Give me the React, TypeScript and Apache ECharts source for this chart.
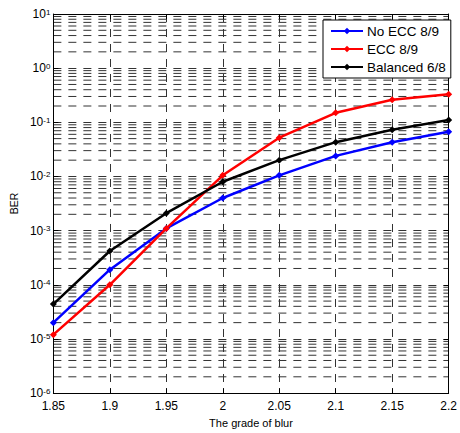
import React, { useEffect, useRef } from "react";
import * as echarts from "echarts";

const xValues = [1.85, 1.9, 1.95, 2.0, 2.05, 2.1, 2.15, 2.2];
const noEcc = [2e-5, 1.9e-4, 1.1e-3, 4e-3, 1.05e-2, 2.4e-2, 4.3e-2, 6.7e-2];
const ecc = [1.2e-5, 1e-4, 1.1e-3, 1.05e-2, 5.2e-2, 0.15, 0.26, 0.33];
const balanced = [4.4e-5, 4.2e-4, 2.1e-3, 8e-3, 2e-2, 4.3e-2, 7.3e-2, 0.11];
const seriesNames = ["No ECC 8/9", "ECC 8/9", "Balanced 6/8"];
const seriesColors = ["#0000ff", "#ff0000", "#000000"];
const minorMultipliers = [2, 3, 4, 5, 6, 7, 8, 9];
const decadeExponents = [-6, -5, -4, -3, -2, -1, 0];
const xMin = 1.85;
const xMax = 2.2;

const FONT = "'Liberation Sans', Arial, Helvetica, sans-serif";

export default function App() {
  const ref = useRef<HTMLDivElement>(null);
  useEffect(() => {
    if (!ref.current) return;
    const chart = echarts.init(ref.current, null, { renderer: "svg" });
    const minorLines: number[][] = [];
    decadeExponents.forEach((e) => {
      minorMultipliers.forEach((m) => {
        minorLines.push([xMin, m * Math.pow(10, e), xMax]);
      });
    });
    const gridColor = "#333";
    const gridDash = [8, 7];
    const gridLine = { color: gridColor, width: 1, type: gridDash as any };
    const allSeries = [noEcc, ecc, balanced];
    const option: any = {
      animation: false,
      textStyle: { fontFamily: FONT },
      grid: { left: 51, right: 9, top: 14, bottom: 38, containLabel: false },
      legend: {
        data: seriesNames,
        orient: "vertical",
        left: 323,
        top: 20,
        z: 20,
        padding: [3, 5, 3, 7],
        itemWidth: 32,
        itemHeight: 8,
        itemGap: 2,
        backgroundColor: "#fff",
        borderColor: "#000",
        borderWidth: 1,
        borderRadius: 0,
        textStyle: { fontSize: 13.5, lineHeight: 16, color: "#000", fontFamily: FONT, padding: [0, 0, 0, -1] },
      },
      xAxis: [
        {
          type: "value",
          min: xMin,
          max: xMax,
          interval: 0.05,
          name: "The grade of blur",
          nameLocation: "middle",
          nameGap: 20,
          nameTextStyle: { fontSize: 11, color: "#000", fontFamily: FONT },
          axisLine: { show: true, lineStyle: { color: "#000", width: 1 } },
          axisTick: { show: true, inside: true, length: 5, lineStyle: { color: "#000" } },
          axisLabel: {
            color: "#000",
            fontSize: 12,
            margin: 7,
            fontFamily: FONT,
            formatter: (v: number) => String(parseFloat(v.toFixed(2))),
          },
          splitLine: { show: true, lineStyle: gridLine },
        },
        {
          type: "value",
          position: "top",
          min: xMin,
          max: xMax,
          interval: 0.05,
          axisLine: { show: true, lineStyle: { color: "#000", width: 1 } },
          axisTick: { show: true, inside: true, length: 5, lineStyle: { color: "#000" } },
          axisLabel: { show: false },
          splitLine: { show: false },
        },
      ],
      yAxis: [
        {
          type: "log",
          logBase: 10,
          min: 1e-6,
          max: 10,
          interval: 1,
          name: "BER",
          nameLocation: "middle",
          nameGap: 34,
          nameTextStyle: { fontSize: 10.5, color: "#000", fontFamily: FONT },
          axisLine: { show: true, lineStyle: { color: "#000", width: 1 } },
          axisTick: { show: true, inside: true, length: 5, lineStyle: { color: "#000" } },
          axisLabel: {
            margin: 3,
            formatter: (v: number) => {
              const e = Math.round(Math.log10(v));
              return `{b|10}{s|${e}}`;
            },
            rich: {
              b: { fontSize: 12, lineHeight: 12, color: "#000", fontFamily: FONT, padding: [6, 0, 0, 0], verticalAlign: "bottom" },
              s: { fontSize: 8, lineHeight: 8, color: "#000", fontFamily: FONT, verticalAlign: "top" },
            },
          },
          splitLine: { show: true, lineStyle: gridLine },
        },
        {
          type: "log",
          logBase: 10,
          min: 1e-6,
          max: 10,
          interval: 1,
          position: "right",
          axisLine: { show: true, lineStyle: { color: "#000", width: 1 } },
          axisTick: { show: true, inside: true, length: 5, lineStyle: { color: "#000" } },
          axisLabel: { show: false },
          splitLine: { show: false },
        },
      ],
      series: [
        {
          name: "__minorgrid",
          type: "custom",
          z: 0,
          silent: true,
          clip: true,
          encode: { x: [0, 2], y: 1 },
          data: minorLines,
          renderItem: (params: any, api: any) => {
            const p1 = api.coord([api.value(0), api.value(1)]);
            const p2 = api.coord([api.value(2), api.value(1)]);
            return {
              type: "line",
              shape: { x1: p1[0], y1: p1[1], x2: p2[0], y2: p2[1] },
              style: { stroke: gridColor, lineWidth: 1, lineDash: gridDash, fill: null },
            };
          },
        },
        ...allSeries.map((vals, i) => ({
          name: seriesNames[i],
          type: "line",
          z: 3 + i,
          data: xValues.map((x, j) => [x, vals[j]]),
          symbol: "diamond",
          symbolSize: 7,
          color: seriesColors[i],
          lineStyle: { color: seriesColors[i], width: 2.5 },
          itemStyle: { color: seriesColors[i] },
        })),
      ],
    };
    chart.setOption(option);
    return () => chart.dispose();
  }, []);
  return <div ref={ref} style={{ width: 460, height: 433, position: "absolute", left: 0, top: 0 }} />;
}
